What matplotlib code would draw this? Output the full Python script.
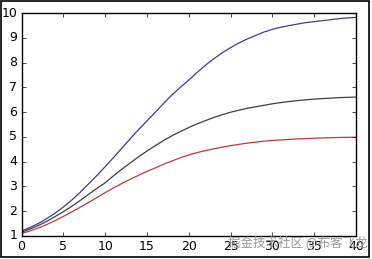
import numpy as np
import matplotlib
matplotlib.use('Agg')
import matplotlib.pyplot as plt
from matplotlib.patches import Rectangle

plt.style.use('classic')

# values
x = list(range(0, 41))
upper = [1.2, 1.34, 1.5, 1.7, 1.92, 2.17, 2.45, 2.76, 3.1, 3.44, 3.8, 4.17, 4.55,
         4.93, 5.3, 5.65, 6.0, 6.36, 6.7, 7.01, 7.3, 7.61, 7.9, 8.16, 8.4, 8.61,
         8.8, 8.96, 9.1, 9.24, 9.35, 9.43, 9.5, 9.56, 9.62, 9.66, 9.7, 9.74, 9.78,
         9.81, 9.83]
middle = [1.15, 1.28, 1.42, 1.59, 1.78, 1.98, 2.2, 2.43, 2.68, 2.92, 3.15, 3.43, 3.7,
          3.95, 4.2, 4.43, 4.65, 4.86, 5.05, 5.22, 5.38, 5.53, 5.66, 5.79, 5.9, 6.0,
          6.08, 6.16, 6.22, 6.28, 6.34, 6.39, 6.43, 6.47, 6.5, 6.53, 6.55, 6.57, 6.59,
          6.6, 6.61]
lower = [1.1, 1.2, 1.32, 1.46, 1.62, 1.79, 1.97, 2.16, 2.35, 2.55, 2.75, 2.94, 3.12,
         3.29, 3.45, 3.61, 3.75, 3.9, 4.03, 4.16, 4.27, 4.37, 4.45, 4.52, 4.59, 4.65,
         4.7, 4.75, 4.79, 4.83, 4.86, 4.88, 4.9, 4.92, 4.93, 4.95, 4.96, 4.97, 4.98,
         4.985, 4.99]

fig = plt.figure(figsize=(3.72, 2.59), dpi=100, facecolor='white')
ax = fig.add_axes([0.058, 0.089, 0.899, 0.86])

ax.plot(x, upper, color='#3c3c96', linewidth=0.9)
ax.plot(x, middle, color='#3a403a', linewidth=0.9)
ax.plot(x, lower, color='#c0393b', linewidth=0.9)

ax.set_xlim(0, 40)
ax.set_ylim(1, 10)
ax.set_xticks(range(0, 41, 5))
ax.set_yticks(range(1, 11))
ax.tick_params(labelsize=9, length=3, direction='in', top=True, right=True, pad=3)

# frame round the whole picture
fig.patches.append(Rectangle((0.003, 0.006), 0.990, 0.989, transform=fig.transFigure,
                             fill=False, edgecolor='black', linewidth=1.2))

fig.text(0.989, 0.062, '掘金技术社区 @布客飞龙', ha='right', va='center', fontsize=9,
         color='#999999', family=['Noto Sans CJK SC', 'DejaVu Sans'])

plt.savefig('out.png', dpi=100, facecolor='white')
